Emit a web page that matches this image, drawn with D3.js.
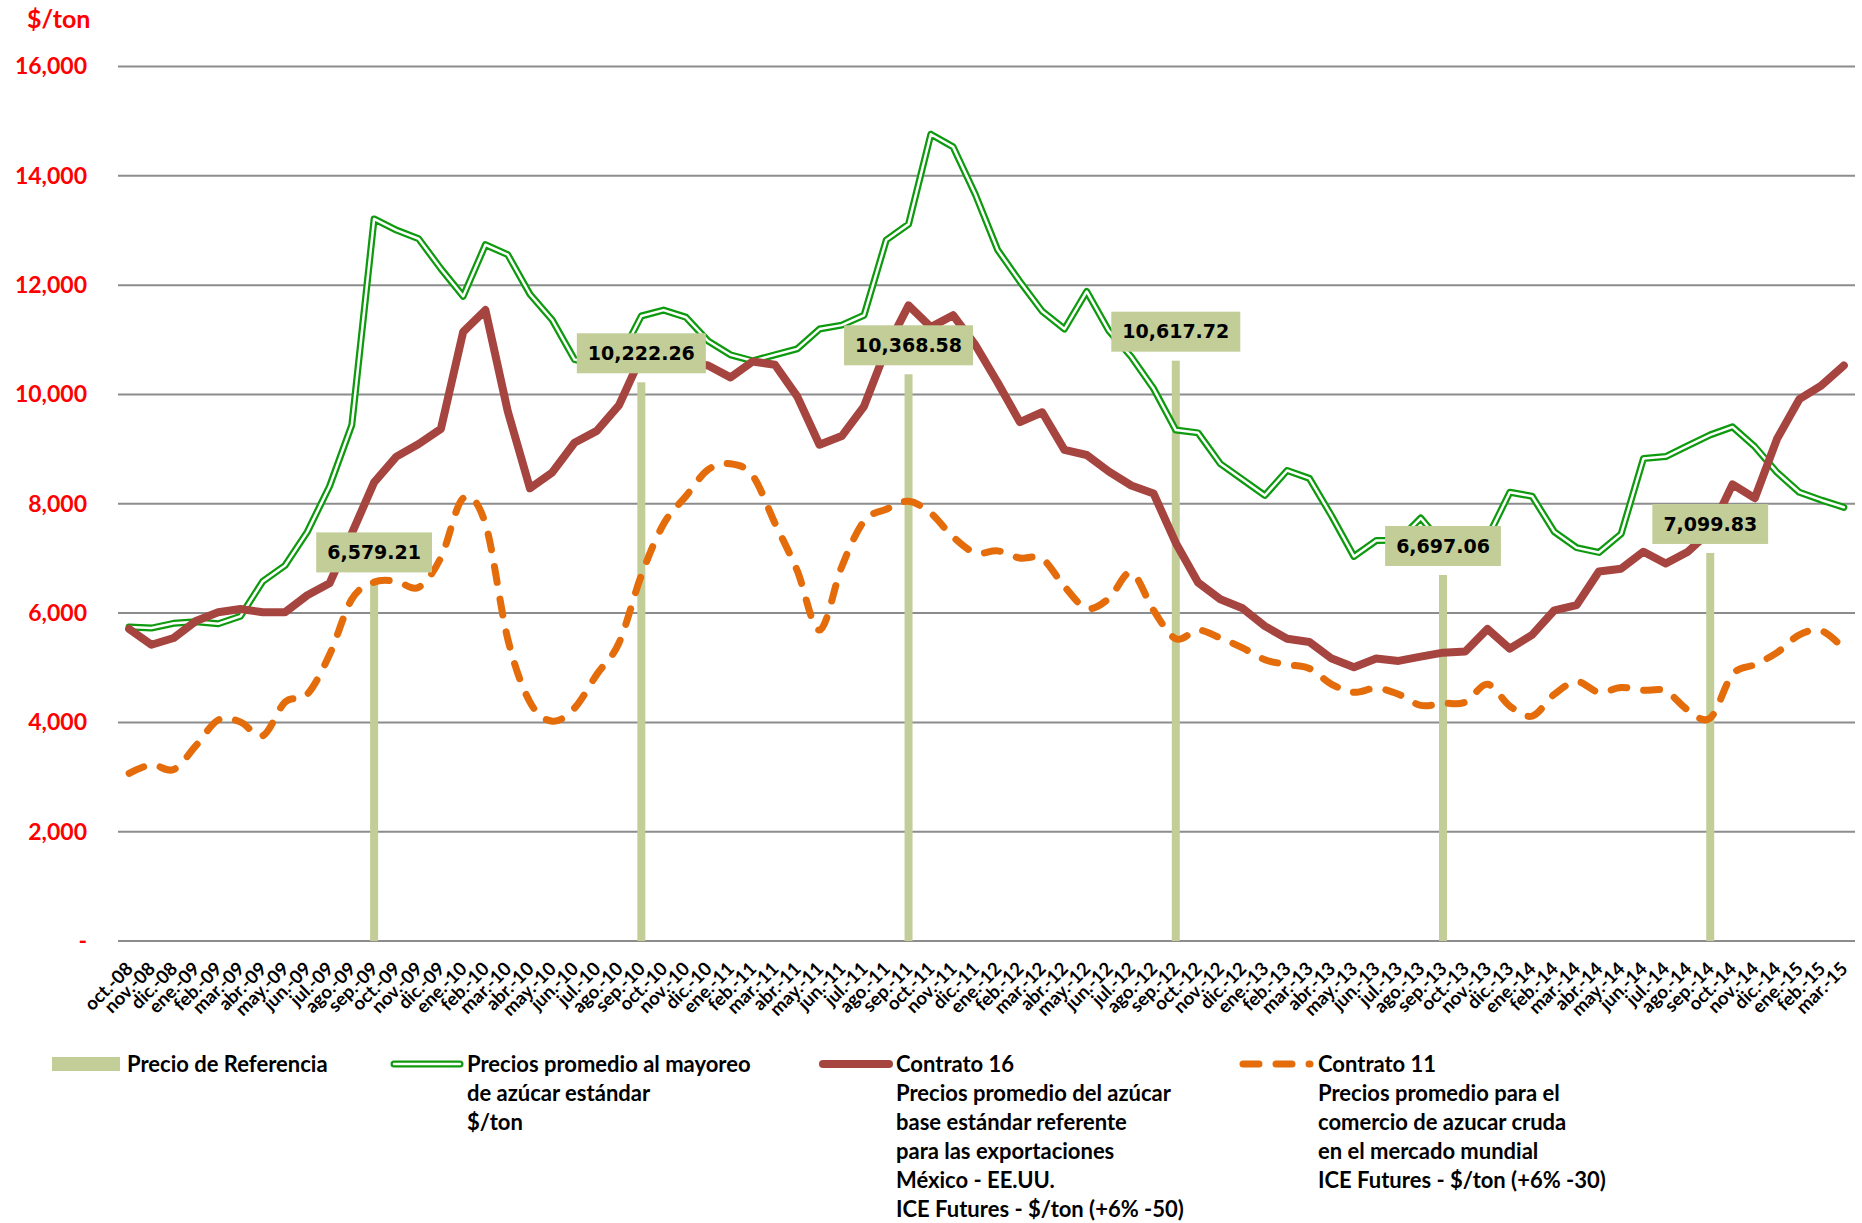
<!DOCTYPE html>
<html>
<head>
<meta charset="utf-8">
<script src="https://cdnjs.cloudflare.com/ajax/libs/d3/7.8.5/d3.min.js"></script>
<style>
  body { margin: 0; background: #fff; }
  text { font-family: Lato, "Open Sans", sans-serif; font-weight: bold; }
</style>
</head>
<body>
<div class="chart"></div>
<script>
// month categories (oct-08 .. mar-15)
var months = [
  "oct.-08","nov.-08","dic.-08","ene.-09","feb.-09","mar.-09","abr.-09","may.-09","jun.-09","jul.-09","ago.-09","sep.-09",
  "oct.-09","nov.-09","dic.-09","ene.-10","feb.-10","mar.-10","abr.-10","may.-10","jun.-10","jul.-10","ago.-10","sep.-10",
  "oct.-10","nov.-10","dic.-10","ene.-11","feb.-11","mar.-11","abr.-11","may.-11","jun.-11","jul.-11","ago.-11","sep.-11",
  "oct.-11","nov.-11","dic.-11","ene.-12","feb.-12","mar.-12","abr.-12","may.-12","jun.-12","jul.-12","ago.-12","sep.-12",
  "oct.-12","nov.-12","dic.-12","ene.-13","feb.-13","mar.-13","abr.-13","may.-13","jun.-13","jul.-13","ago.-13","sep.-13",
  "oct.-13","nov.-13","dic.-13","ene.-14","feb.-14","mar.-14","abr.-14","may.-14","jun.-14","jul.-14","ago.-14","sep.-14",
  "oct.-14","nov.-14","dic.-14","ene.-15","feb.-15","mar.-15"
];

// Precios promedio al mayoreo de azucar estandar
var mayoreo = [
  5747, 5725, 5812, 5841, 5805, 5942, 6580, 6870, 7486, 8319, 9442, 13210,
  13007, 12848, 12300, 11797, 12739, 12558, 11833, 11362, 10638, 10550, 10640, 11435,
  11543, 11413, 10978, 10725, 10616, 10725, 10833, 11196, 11268, 11449, 12826, 13116,
  14761, 14529, 13659, 12645, 12065, 11522, 11196, 11884, 11160, 10689, 10109, 9348,
  9297, 8732, 8442, 8152, 8609, 8464, 7776, 7036, 7326, 7330, 7739, 7250,
  7250, 7380, 8210, 8138, 7486, 7196, 7109, 7449, 8826, 8863, 9065, 9261,
  9406, 9044, 8573, 8210, 8065, 7935
];

// Contrato 16
var contrato16 = [
  5710, 5420, 5544, 5855, 6015, 6073, 6015, 6015, 6326, 6544, 7460, 8391,
  8862, 9094, 9370, 11145, 11543, 9696, 8283, 8573, 9116, 9333, 9804, 10696,
  10650, 10600, 10529, 10312, 10602, 10544, 9964, 9080, 9239, 9783, 10833, 11630,
  11232, 11449, 10906, 10218, 9493, 9674, 8986, 8892, 8587, 8334, 8188, 7283,
  6559, 6254, 6087, 5761, 5529, 5471, 5167, 5008, 5167, 5124, 5203, 5276,
  5297, 5710, 5348, 5602, 6051, 6145, 6761, 6812, 7123, 6906, 7123, 7500,
  8355, 8101, 9188, 9913, 10167, 10529
];

// Contrato 11
var contrato11 = [
  3066, 3225, 3138, 3573, 4044, 4008, 3754, 4370, 4515, 5240, 6254, 6566,
  6580, 6471, 7015, 8102, 7631, 5529, 4370, 4022, 4261, 4877, 5457, 6689,
  7631, 8138, 8623, 8732, 8515, 7645, 6776, 5689, 6848, 7681, 7899, 8044,
  7826, 7392, 7102, 7138, 7007, 6993, 6486, 6087, 6268, 6739, 6051, 5529,
  5689, 5544, 5363, 5146, 5058, 4986, 4696, 4551, 4624, 4515, 4312, 4348,
  4370, 4696, 4298, 4116, 4515, 4747, 4551, 4638, 4587, 4573, 4225, 4080,
  4877, 5058, 5276, 5602, 5674, 5348
];

// Precio de Referencia (only in september)
var refMonths = ["sep.-09", "sep.-10", "sep.-11", "sep.-12", "sep.-13", "sep.-14"];
var refPrices = [6579.21, 10222.26, 10368.58, 10617.72, 6697.06, 7099.83];

var yTicks = [0, 2000, 4000, 6000, 8000, 10000, 12000, 14000, 16000];

var svgWidth = 1862;
var svgHeight = 1223;

var plotLeft = 118;
var plotRight = 1855;
var plotTop = 66.5;
var plotBottom = 941;

var svg = d3.select(".chart")
  .append("svg")
  .attr("width", svgWidth)
  .attr("height", svgHeight);

var x = d3.scaleBand()
  .domain(months)
  .range([plotLeft, plotRight]);

var y = d3.scaleLinear()
  .domain([0, 16000])
  .range([plotBottom, plotTop]);

var cx = function(m) { return x(m) + x.bandwidth() / 2; };

// gridlines
svg.append("g")
  .selectAll("line")
  .data(yTicks)
  .enter()
  .append("line")
  .attr("x1", plotLeft)
  .attr("x2", plotRight)
  .attr("y1", d => y(d))
  .attr("y2", d => y(d))
  .attr("stroke", "#8c8c8c")
  .attr("stroke-width", 2);

// y axis labels
var yAxis = d3.axisLeft(y)
  .tickValues(yTicks)
  .tickSize(0)
  .tickPadding(31)
  .tickFormat(d => d === 0 ? "-" : d3.format(",")(d));

var yAxisGroup = svg.append("g")
  .attr("transform", `translate(${plotLeft}, 0)`)
  .call(yAxis);
yAxisGroup.select(".domain").remove();
yAxisGroup.selectAll("text")
  .attr("fill", "#ff0000")
  .style("font-size", "23px")
  .style("font-family", "Lato, sans-serif")
  .style("font-weight", "bold");

svg.append("text")
  .attr("x", 27)
  .attr("y", 28)
  .attr("fill", "#ff0000")
  .style("font-size", "25px")
  .text("$/ton");

// x axis labels, rotated
var xAxis = d3.axisBottom(x).tickSize(0);
var xAxisGroup = svg.append("g")
  .attr("transform", `translate(0, ${plotBottom})`)
  .call(xAxis);
xAxisGroup.select(".domain").remove();
xAxisGroup.selectAll("text")
  .attr("x", 0)
  .attr("y", 0)
  .attr("dy", 0)
  .attr("transform", "translate(5, 29) rotate(-45)")
  .style("text-anchor", "end")
  .style("font-size", "18.5px")
  .style("font-family", "Lato, sans-serif")
  .style("font-weight", "bold")
  .attr("fill", "#000");

// reference price bars
var refData = refMonths.map((m, i) => ({ month: m, value: refPrices[i] }));
var barColor = "#c2cd98";

svg.append("g")
  .selectAll("rect")
  .data(refData)
  .enter()
  .append("rect")
  .attr("x", d => cx(d.month) - 4)
  .attr("width", 8)
  .attr("y", d => y(d.value))
  .attr("height", d => plotBottom - y(d.value))
  .attr("fill", barColor);

// lines
var straightLine = d3.line()
  .x((d, i) => cx(months[i]))
  .y(d => y(d))
  .curve(d3.curveLinear);

var smoothLine = d3.line()
  .x((d, i) => cx(months[i]))
  .y(d => y(d))
  .curve(d3.curveCardinal.tension(0));

// green double line
svg.append("path")
  .attr("d", straightLine(mayoreo))
  .attr("fill", "none")
  .attr("stroke", "#0e9a0e")
  .attr("stroke-width", 7)
  .attr("stroke-linejoin", "round")
  .attr("stroke-linecap", "round");
svg.append("path")
  .attr("d", straightLine(mayoreo))
  .attr("fill", "none")
  .attr("stroke", "#fff")
  .attr("stroke-width", 2.5)
  .attr("stroke-linejoin", "round")
  .attr("stroke-linecap", "round");

svg.append("path")
  .attr("d", straightLine(contrato16))
  .attr("fill", "none")
  .attr("stroke", "#a64440")
  .attr("stroke-width", 8)
  .attr("stroke-linejoin", "round")
  .attr("stroke-linecap", "round");

svg.append("path")
  .attr("d", smoothLine(contrato11))
  .attr("fill", "none")
  .attr("stroke", "#e46c0a")
  .attr("stroke-width", 7)
  .attr("stroke-dasharray", "16,17")
  .attr("stroke-linejoin", "round")
  .attr("stroke-linecap", "round");

// data labels for reference price
var labelGroups = svg.append("g")
  .selectAll("g")
  .data(refData)
  .enter()
  .append("g")
  .attr("transform", d => `translate(${cx(d.month)}, ${y(d.value) - 9})`);

var labelRects = labelGroups.append("rect")
  .attr("fill", barColor);

var labelTexts = labelGroups.append("text")
  .attr("y", -20)
  .attr("dy", "0.35em")
  .attr("text-anchor", "middle")
  .style("font-family", "'DejaVu Sans', sans-serif")
  .style("font-size", "19px")
  .attr("fill", "#000")
  .text(d => d3.format(",.2f")(d.value));

labelTexts.each(function(d) {
  var w = this.getComputedTextLength() + 22;
  d3.select(this.parentNode).select("rect")
    .attr("x", -w / 2)
    .attr("y", -40)
    .attr("width", w)
    .attr("height", 40);
});

// legend
var legendTop = 1064;
var lineGap = 29;

var legend = svg.append("g");

legend.append("rect")
  .attr("x", 52)
  .attr("y", 1057)
  .attr("width", 68)
  .attr("height", 14)
  .attr("fill", barColor);

legend.append("line")
  .attr("x1", 394).attr("x2", 460)
  .attr("y1", legendTop).attr("y2", legendTop)
  .attr("stroke", "#0e9a0e").attr("stroke-width", 7).attr("stroke-linecap", "round");
legend.append("line")
  .attr("x1", 394).attr("x2", 460)
  .attr("y1", legendTop).attr("y2", legendTop)
  .attr("stroke", "#fff").attr("stroke-width", 2.5).attr("stroke-linecap", "round");

legend.append("line")
  .attr("x1", 823).attr("x2", 889)
  .attr("y1", legendTop).attr("y2", legendTop)
  .attr("stroke", "#a64440").attr("stroke-width", 8).attr("stroke-linecap", "round");

legend.append("line")
  .attr("x1", 1243).attr("x2", 1310)
  .attr("y1", legendTop).attr("y2", legendTop)
  .attr("stroke", "#e46c0a").attr("stroke-width", 7)
  .attr("stroke-dasharray", "16,17").attr("stroke-linecap", "round");

var legendItems = [
  { x: 127, lines: ["Precio de Referencia"] },
  { x: 467, lines: ["Precios promedio al mayoreo", "de azúcar estándar", "$/ton"] },
  { x: 896, lines: ["Contrato 16", "Precios promedio del azúcar", "base estándar referente",
                    "para las exportaciones", "México - EE.UU.", "ICE Futures - $/ton (+6% -50)"] },
  { x: 1318, lines: ["Contrato 11", "Precios promedio para el", "comercio de azucar cruda",
                     "en el mercado mundial", "ICE Futures - $/ton (+6% -30)"] }
];

legendItems.forEach(function(item) {
  legend.append("text")
    .attr("x", item.x)
    .attr("y", legendTop)
    .attr("fill", "#000")
    .style("font-size", "22px")
    .selectAll("tspan")
    .data(item.lines)
    .enter()
    .append("tspan")
    .attr("x", item.x)
    .attr("y", (d, i) => legendTop + i * lineGap)
    .attr("dy", "0.35em")
    .text(d => d);
});
</script>
</body>
</html>
